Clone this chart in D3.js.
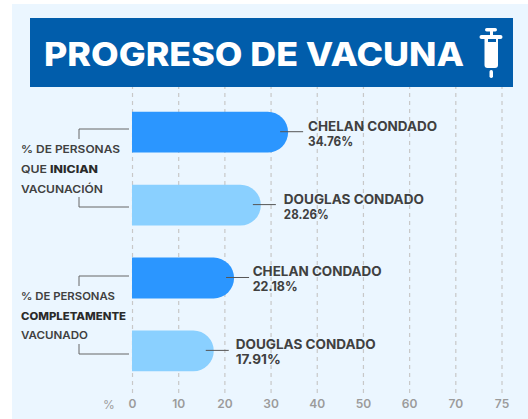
<!DOCTYPE html>
<html>
<head>
<meta charset="utf-8">
<script src="https://cdn.jsdelivr.net/npm/d3@7"></script>
<style>
  html, body { margin: 0; padding: 0; background: #fff; overflow: hidden; }
  svg { display: block; }
  text { font-family: Inter, "DejaVu Sans", sans-serif; fill: #404040; }
</style>
</head>
<body>
<script>
const width = 528,
    height = 419;

// bar lengths as measured on the picture, labels as printed on it
const categories = ["chelan1", "douglas1", "chelan2", "douglas2"];
const barValues = [33.8, 27.9, 22.1, 17.7];
const names = ["CHELAN CONDADO", "DOUGLAS CONDADO", "CHELAN CONDADO", "DOUGLAS CONDADO"];
const percents = ["34.76%", "28.26%", "22.18%", "17.91%"];
const tickPositions = [0, 10, 20, 30, 40, 50, 60, 70, 80];
const tickLabels = ["0", "10", "20", "30", "40", "50", "60", "70", "75"];

const colors = ["#2b96ff", "#8ad0ff", "#2b96ff", "#8ad0ff"];
const labelGaps = [20, 23, 18.6, 22];

const svg = d3.select("body").append("svg")
    .attr("width", width)
    .attr("height", height);

const xScale = d3.scaleLinear().domain([0, 80]).range([132, 501.5]);
const yScale = d3.scaleBand().domain(categories).range([111.8, 371.3]).paddingInner(0.44).paddingOuter(0);

// background + header
svg.append("rect").attr("x", 12).attr("y", 4).attr("width", 516).attr("height", 415).attr("fill", "#ebf6ff");

// grid
const xAxis = d3.axisBottom(xScale)
    .tickValues(tickPositions)
    .tickFormat((d, i) => tickLabels[i])
    .tickSize(-306)
    .tickPadding(6);

const xAxisGroup = svg.append("g")
    .attr("class", "xAxis")
    .attr("transform", `translate(0, 393)`)
    .call(xAxis);
xAxisGroup.select(".domain").remove();
xAxisGroup.selectAll("line")
    .attr("stroke", "#c8c8c8")
    .attr("stroke-width", 1.2)
    .attr("stroke-dasharray", "4 4");
xAxisGroup.selectAll("text")
    .style("font-family", "Inter, sans-serif")
    .style("font-size", "12px")
    .style("font-weight", 600)
    .style("fill", "#9b9b9b");

svg.append("text")
    .attr("x", 109).attr("y", 409)
    .attr("text-anchor", "middle")
    .style("font-size", "12px")
    .style("fill", "#9b9b9b")
    .text("%");

svg.append("rect").attr("x", 30).attr("y", 18).attr("width", 483).attr("height", 69).attr("fill", "#015dab");
svg.append("text")
    .attr("x", 44).attr("y", 66)
    .attr("textLength", 420)
    .attr("lengthAdjust", "spacingAndGlyphs")
    .style("font-size", "33px")
    .style("font-weight", 800)
    .style("fill", "#fff")
    .text("PROGRESO DE VACUNA");

// syringe icon
const icon = svg.append("g").attr("fill", "#fff");
icon.append("rect").attr("x", 485).attr("y", 28).attr("width", 12).attr("height", 3.5).attr("rx", 1.7);
icon.append("rect").attr("x", 490).attr("y", 31).attr("width", 3).attr("height", 6);
icon.append("rect").attr("x", 479.5).attr("y", 35).attr("width", 23).attr("height", 4).attr("rx", 2);
icon.append("path").attr("d", "M484.5 39H498V65q0 3-3 3H487.5q-3 0-3-3Z");
icon.append("rect").attr("x", 488).attr("y", 39).attr("width", 8).attr("height", 3).attr("fill", "#015dab");
icon.append("rect").attr("x", 489.5).attr("y", 70).attr("width", 3.5).attr("height", 8).attr("rx", 1.7);

// bars, flat on the left and round on the right
function barPath(d, i) {
    const x0 = xScale(0),
        x1 = xScale(barValues[i]),
        y0 = yScale(d),
        h = yScale.bandwidth(),
        r = h / 2;
    const path = d3.path();
    path.moveTo(x0, y0);
    path.lineTo(x1 - r, y0);
    path.arc(x1 - r, y0 + r, r, -Math.PI / 2, Math.PI / 2);
    path.lineTo(x0, y0 + h);
    path.closePath();
    return path.toString();
}

svg.selectAll(".bar")
    .data(categories)
    .join("path")
    .attr("class", "bar")
    .attr("d", barPath)
    .attr("fill", (d, i) => colors[i]);

// leader line + value label at the end of each bar
svg.selectAll(".leader")
    .data(categories)
    .join("line")
    .attr("class", "leader")
    .attr("x1", (d, i) => xScale(barValues[i]) - 8)
    .attr("x2", (d, i) => xScale(barValues[i]) + 15)
    .attr("y1", d => yScale(d) + yScale.bandwidth() / 2 - 0.5)
    .attr("y2", d => yScale(d) + yScale.bandwidth() / 2 - 0.5)
    .attr("stroke", "#555")
    .attr("stroke-width", 1);

svg.selectAll(".name")
    .data(categories)
    .join("text")
    .attr("class", "name")
    .attr("x", (d, i) => xScale(barValues[i]) + labelGaps[i])
    .attr("y", d => yScale(d) + yScale.bandwidth() / 2 - 1.5)
    .attr("textLength", (d, i) => names[i][0] === "C" ? 129 : 140)
    .attr("lengthAdjust", "spacingAndGlyphs")
    .style("font-size", "13px")
    .style("font-weight", 700)
    .text((d, i) => names[i]);

svg.selectAll(".percent")
    .data(categories)
    .join("text")
    .attr("class", "percent")
    .attr("x", (d, i) => xScale(barValues[i]) + labelGaps[i])
    .attr("y", d => yScale(d) + yScale.bandwidth() / 2 + 13.5)
    .attr("textLength", 45)
    .attr("lengthAdjust", "spacingAndGlyphs")
    .style("font-size", "13px")
    .style("font-weight", 700)
    .text((d, i) => percents[i]);

// left group captions
const captions = [
    { y: 153, size: 99, parts: [["% DE PERSONAS", 600]] },
    { y: 173, size: 77, parts: [["QUE ", 600], ["INICIAN", 800]] },
    { y: 192.5, size: 82, parts: [["VACUNACIÓN", 600]] },
    { y: 300, size: 94, parts: [["% DE PERSONAS", 600]] },
    { y: 319.5, size: 105, parts: [["COMPLETAMENTE", 800]] },
    { y: 339, size: 67, parts: [["VACUNADO", 600]] }
];

captions.forEach(c => {
    const t = svg.append("text")
        .attr("x", 21).attr("y", c.y)
        .attr("textLength", c.size)
        .attr("lengthAdjust", "spacingAndGlyphs")
        .style("font-size", "10.5px");
    c.parts.forEach(p => {
        t.append("tspan")
            .style("font-weight", p[1])
            .style("fill", p[1] > 600 ? "#2a2a2a" : "#404040")
            .text(p[0]);
    });
});

// brackets between captions and bars
const brackets = ["M79 139V129H129", "M79 197V207H129", "M79 286V276H129", "M79 344V354H129"];
svg.selectAll(".bracket")
    .data(brackets)
    .join("path")
    .attr("class", "bracket")
    .attr("d", d => d)
    .attr("fill", "none")
    .attr("stroke", "#666")
    .attr("stroke-width", 1);
</script>
</body>
</html>
